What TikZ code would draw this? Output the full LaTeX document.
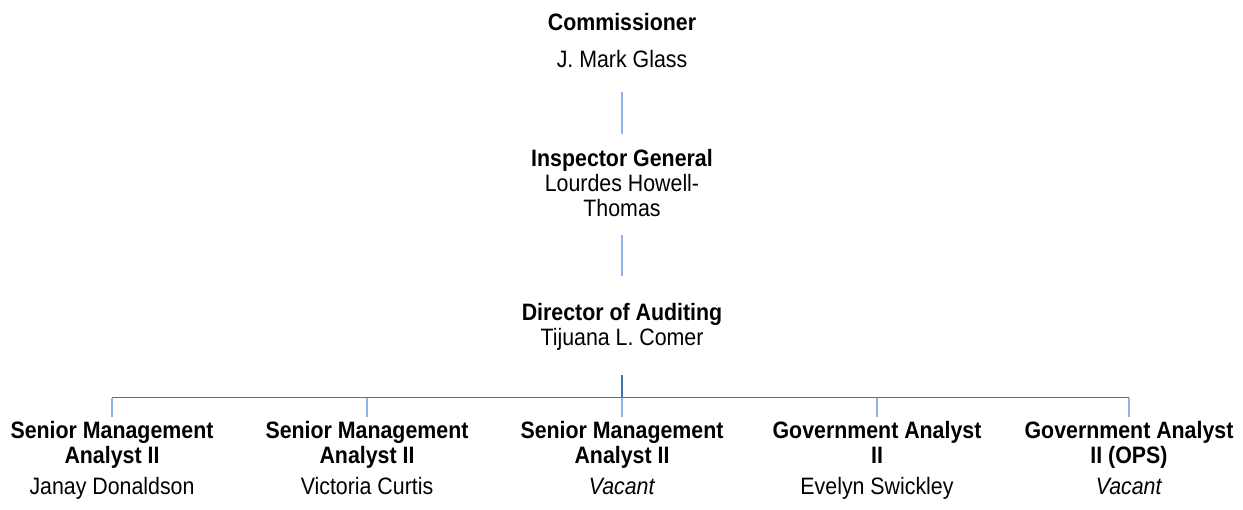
\documentclass[tikz,border=0pt]{standalone}
\usepackage{fontspec}
\setmainfont{Liberation Sans}[FakeStretch=0.9]
\usetikzlibrary{positioning}
\definecolor{linkblue}{RGB}{141,180,226}
\definecolor{busblue}{RGB}{68,114,176}
\tikzset{
	post/.style = {font=\bfseries\fontsize{13.5}{14.3}\selectfont, align=center, inner sep=0pt},
	holder/.style = {font=\fontsize{13.5}{14.3}\selectfont, align=center, inner sep=0pt},
	member/.style = {holder, text height=10pt, text depth=3pt},
	link/.style = {draw=linkblue, line width=0.8pt},
	bus/.style = {draw=busblue, line width=1pt},
	coord/.style = {coordinate}
}

\begin{document}
\begin{tikzpicture}[node distance=2cm]
		\useasboundingbox (0,0) rectangle (24.86,-10.2);
		\node [post] (commissioner) at (12.44,-0.44) {Commissioner};
		\node [holder, below of=commissioner, node distance=0.74cm] (glass) {J. Mark Glass};
		\node [holder, below of=glass, node distance=2.48cm] (inspector) {\textbf{Inspector General}\\Lourdes Howell-\\Thomas};
		\node [holder, below of=inspector, node distance=2.88cm] (director) {\textbf{Director of Auditing}\\Tijuana L. Comer};
		\node [coord, below of=director, node distance=1.41cm] (hub) {};
		\node [post, below of=director, node distance=2.35cm] (sma3) {Senior Management\\Analyst II};
		\node [post, left of=sma3, node distance=5.1cm] (sma2) {Senior Management\\Analyst II};
		\node [post, left of=sma2, node distance=5.1cm] (sma1) {Senior Management\\Analyst II};
		\node [post, right of=sma3, node distance=5.1cm] (ga) {Government Analyst\\II\vphantom{y}};
		\node [post, right of=ga, node distance=5.04cm] (gaops) {Government Analyst\\II (OPS)\vphantom{y}};
		\node [member, below of=sma1, node distance=0.88cm] (donaldson) {Janay Donaldson};
		\node [member, below of=sma2, node distance=0.88cm] (curtis) {Victoria Curtis};
		\node [member, below of=sma3, node distance=0.88cm] (vacant1) {\textit{Vacant}};
		\node [member, below of=ga, node distance=0.88cm] (swickley) {Evelyn Swickley};
		\node [member, below of=gaops, node distance=0.88cm] (vacant2) {\textit{Vacant}};
		\draw [link, shorten <=0.48cm, shorten >=0.3cm] (glass) -- (inspector);
		\draw [link, shorten <=0.36cm, shorten >=0.54cm] (inspector) -- (director);
		\draw [bus, line width=1.3pt, shorten <=0.48cm] (director) -- (hub);
		\draw [bus] (sma1 |- hub) -- (gaops |- hub);
		\foreach \n in {sma1,sma2,sma3,ga,gaops}
			\draw [link, shorten >=0.08cm] (\n |- hub) -- (\n);
	    \end{tikzpicture}
\end{document}
